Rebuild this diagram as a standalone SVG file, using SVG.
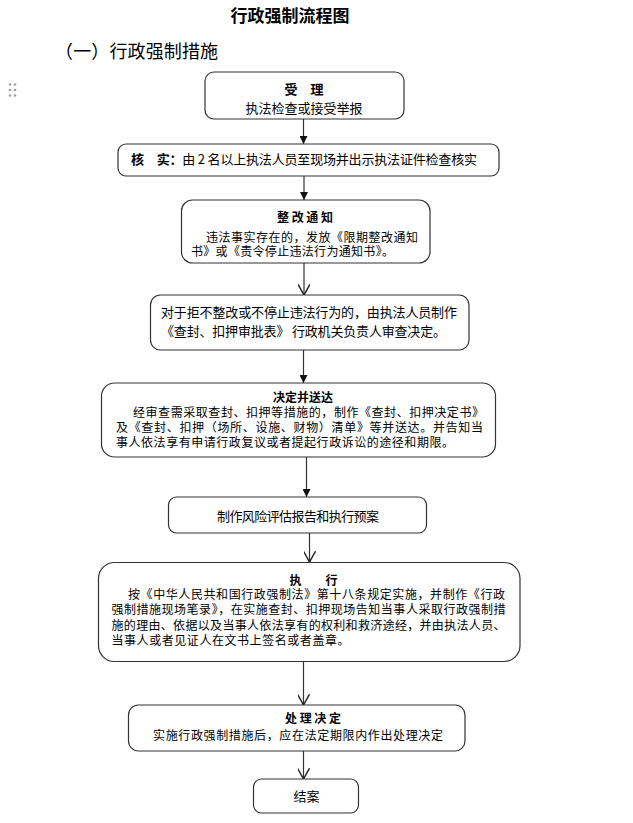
<svg xmlns="http://www.w3.org/2000/svg" width="633" height="823" viewBox="0 0 633 823">
<defs>
<style>
text{font-family:"Noto Sans CJK SC","Liberation Sans",sans-serif;fill:#000;}
.t{font-size:13px;}
.s{font-size:12px;}
.b{font-weight:bold;}
.box{fill:#fff;stroke:#333;stroke-width:1.2;}
.con{stroke:#333;stroke-width:1.2;fill:none;}
.dot{fill:#a0a0a0;}
</style>
<marker id="solid" markerWidth="8" markerHeight="8" refX="6" refY="3" orient="auto" markerUnits="userSpaceOnUse" viewBox="0 0 6 6">
<path d="M0,0 L6,3 L0,6 Z" fill="#111"/>
</marker>
<marker id="open" markerWidth="12" markerHeight="12" refX="9" refY="5" orient="auto" markerUnits="userSpaceOnUse" viewBox="0 0 10 10">
<path d="M0,0 L9,5 L0,10" fill="none" stroke="#222" stroke-width="1.2"/>
</marker>
</defs>
<rect width="633" height="823" fill="#fff"/>
<text x="290" y="22" text-anchor="middle" class="b" font-size="17">行政强制流程图</text>
<text x="55" y="58" font-size="18" textLength="163" lengthAdjust="spacing">（一）行政强制措施</text>
<g id="handle">
<circle class="dot" cx="10" cy="84.5" r="1.3"/><circle class="dot" cx="15" cy="84.5" r="1.3"/>
<circle class="dot" cx="10" cy="90" r="1.3"/><circle class="dot" cx="15" cy="90" r="1.3"/>
<circle class="dot" cx="10" cy="95.5" r="1.3"/><circle class="dot" cx="15" cy="95.5" r="1.3"/>
</g>
<g id="connectors">
<line class="con" x1="303.5" y1="119" x2="303.5" y2="144" marker-end="url(#solid)"/>
<line class="con" x1="304" y1="176" x2="304" y2="200" marker-end="url(#solid)"/>
<line class="con" x1="304" y1="263" x2="304" y2="295" marker-end="url(#open)"/>
<line class="con" x1="303.5" y1="350" x2="303.5" y2="383" marker-end="url(#solid)"/>
<line class="con" x1="306.5" y1="457" x2="306.5" y2="497" marker-end="url(#solid)"/>
<line class="con" x1="309.5" y1="533" x2="309.5" y2="562" marker-end="url(#open)"/>
<line class="con" x1="303.5" y1="662" x2="303.5" y2="705" marker-end="url(#open)"/>
<line class="con" x1="303.5" y1="751" x2="303.5" y2="779" marker-end="url(#open)"/>
</g>
<g id="n1">
<rect class="box" x="205" y="72" width="199" height="47" rx="9"/>
<text x="304" y="94" text-anchor="middle" class="t b">受　理</text>
<text x="304" y="113" text-anchor="middle" class="t">执法检查或接受举报</text>
</g>
<g id="n2">
<rect class="box" x="118" y="144" width="381" height="32" rx="8"/>
<text x="131" y="164" class="t" textLength="346" lengthAdjust="spacing"><tspan class="b">核　实：</tspan>由 2 名以上执法人员至现场并出示执法证件检查核实</text>
</g>
<g id="n3">
<rect class="box" x="181.5" y="200" width="248.5" height="63" rx="11"/>
<text x="305" y="222" text-anchor="middle" class="s b">整 改 通 知</text>
<text x="206" y="242" class="s" textLength="212" lengthAdjust="spacing">违法事实存在的，发放《限期整改通知</text>
<text x="191" y="256" class="s" textLength="203" lengthAdjust="spacing">书》或《责令停止违法行为通知书》。</text>
</g>
<g id="n4">
<rect class="box" x="150.5" y="295" width="318.5" height="55" rx="10"/>
<text x="161" y="317" class="t" textLength="296" lengthAdjust="spacing">对于拒不整改或不停止违法行为的，由执法人员制作</text>
<text x="161" y="336" class="t" textLength="285" lengthAdjust="spacing">《查封、扣押审批表》 行政机关负责人审查决定。</text>
</g>
<g id="n5">
<rect class="box" x="101.5" y="383" width="394" height="74" rx="13"/>
<text x="303" y="402" text-anchor="middle" class="s b">决定并送达</text>
<text x="133" y="417" class="s" textLength="351" lengthAdjust="spacing">经审查需采取查封、扣押等措施的，制作《查封、扣押决定书》</text>
<text x="116" y="432" class="s" textLength="367" lengthAdjust="spacing">及《查封、扣押（场所、设施、财物）清单》等并送达。并告知当</text>
<text x="116" y="447" class="s" textLength="338" lengthAdjust="spacing">事人依法享有申请行政复议或者提起行政诉讼的途径和期限。</text>
</g>
<g id="n6">
<rect class="box" x="168.5" y="497" width="258" height="36" rx="8"/>
<text x="298" y="521" text-anchor="middle" class="t" textLength="162" lengthAdjust="spacing">制作风险评估报告和执行预案</text>
</g>
<g id="n7">
<rect class="box" x="98.5" y="562.5" width="421.5" height="99" rx="16"/>
<text x="313.5" y="585" text-anchor="middle" class="s b">执　　行</text>
<text x="128" y="599" class="s" textLength="377" lengthAdjust="spacing">按《中华人民共和国行政强制法》第十八条规定实施，并制作《行政</text>
<text x="111.5" y="614" class="s" textLength="394" lengthAdjust="spacing">强制措施现场笔录》，在实施查封、扣押现场告知当事人采取行政强制措</text>
<text x="111.5" y="630" class="s" textLength="394" lengthAdjust="spacing">施的理由、依据以及当事人依法享有的权利和救济途经，并由执法人员、</text>
<text x="111.5" y="645" class="s" textLength="238" lengthAdjust="spacing">当事人或者见证人在文书上签名或者盖章。</text>
</g>
<g id="n8">
<rect class="box" x="128.5" y="705" width="336.5" height="46" rx="10"/>
<text x="313" y="723" text-anchor="middle" class="s b">处 理 决 定</text>
<text x="153" y="740" class="s" textLength="290" lengthAdjust="spacing">实施行政强制措施后，应在法定期限内作出处理决定</text>
</g>
<g id="n9">
<rect class="box" x="253.5" y="779" width="105" height="34" rx="8"/>
<text x="306.5" y="801" text-anchor="middle" class="t">结案</text>
</g>
</svg>
